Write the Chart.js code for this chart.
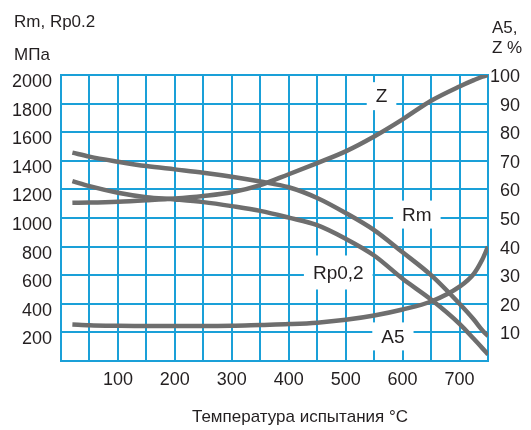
<!DOCTYPE html>
<html><head><meta charset="utf-8">
<script src="https://cdn.jsdelivr.net/npm/chart.js@4/dist/chart.umd.min.js"></script>
<style>html,body{margin:0;padding:0;background:#fff}#wrap{width:531px;height:430px}</style>
</head><body><div id="wrap"><canvas id="c" width="531" height="430"></canvas></div>
<script>
// Temperature (°C)
const temps = [20, 50, 100, 150, 200, 250, 300, 350, 400, 450, 500, 550, 600, 650, 700, 725, 740, 750];
// Rm, MPa (left axis)
const rm   = [1457, 1429, 1394, 1363, 1340, 1317, 1289, 1255, 1215, 1140, 1035, 915, 760, 600, 400, 290, 215, 174];
// Rp0,2, MPa (left axis)
const rp02 = [1258, 1223, 1177, 1146, 1130, 1111, 1083, 1050, 1003, 950, 855, 738, 575, 430, 260, 155, 90, 46];
// Z, % (right axis)
const zPct = [55.3, 55.4, 55.7, 56.2, 56.8, 57.7, 59.0, 61.5, 65.3, 69.2, 73.3, 78.5, 84.5, 91.0, 96.0, 98.2, 99.4, 100];
// A5, % (right axis)
const a5   = [12.8, 12.5, 12.3, 12.2, 12.2, 12.2, 12.3, 12.6, 12.9, 13.4, 14.4, 15.9, 18.0, 20.8, 26.0, 30.5, 35.5, 40];

const xTicksShown = [100, 200, 300, 400, 500, 600, 700];
const leftTicksShown = [200, 400, 600, 800, 1000, 1200, 1400, 1600, 1800, 2000];
const rightTicksShown = [10, 20, 30, 40, 50, 60, 70, 80, 90, 100];

const curveLabels = [
  {text: 'Z', t: 563, v: 1852},
  {text: 'Rm', t: 625, v: 1024},
  {text: 'Rp0,2', t: 487, v: 619},
  {text: 'A5', t: 583, v: 172}
];

const GRID = '#1aa0d8';
const LINE = '#6e6e6e';
const TXT = '#231f20';
const REG = '"Liberation Sans", Arial, sans-serif';

const pts = arr => arr.map((v, i) => ({x: temps[i], y: v}));

const textPlugin = {
  id: 'texts',
  beforeDatasetsDraw(chart) {
    const ctx = chart.ctx;
    const xs = chart.scales.x, ys = chart.scales.y;
    ctx.save();
    ctx.font = '19px ' + REG;
    ctx.textAlign = 'center';
    ctx.textBaseline = 'middle';
    curveLabels.forEach(l => {
      const px = xs.getPixelForValue(l.t), py = ys.getPixelForValue(l.v);
      const w = ctx.measureText(l.text).width + 18;
      const h = l.text.length > 3 ? 34 : 28;
      ctx.fillStyle = '#fff';
      ctx.fillRect(px - w / 2, py - h / 2, w, h);
      ctx.fillStyle = TXT;
      ctx.fillText(l.text, px, py + 1);
    });
    ctx.restore();
  },
  afterDraw(chart) {
    const ctx = chart.ctx;
    ctx.save();
    ctx.fillStyle = TXT;
    ctx.textBaseline = 'alphabetic';
    ctx.font = '17px ' + REG;
    ctx.textAlign = 'left';
    ctx.fillText('Rm, Rp0.2', 14, 27);
    ctx.fillText('МПа', 14, 60);
    ctx.fillText('A5,', 492, 33);
    ctx.fillText('Z %', 492, 53);
    ctx.textAlign = 'center';
    ctx.fillText('Температура испытания °C', 300, 422);
    ctx.restore();
  }
};

new Chart(document.getElementById('c'), {
  type: 'line',
  data: {
    datasets: [
      {label: 'Rm', data: pts(rm), yAxisID: 'y'},
      {label: 'Rp0,2', data: pts(rp02), yAxisID: 'y'},
      {label: 'Z', data: pts(zPct), yAxisID: 'y1'},
      {label: 'A5', data: pts(a5), yAxisID: 'y1'}
    ].map(d => Object.assign(d, {
      borderColor: LINE, borderWidth: 4.5, pointRadius: 0, fill: false,
      cubicInterpolationMode: 'monotone', borderCapStyle: 'butt'
    }))
  },
  options: {
    responsive: false,
    animation: false,
    events: [],
    layout: {padding: {top: 75, right: 11, left: 0, bottom: 0}},
    plugins: {legend: {display: false}, tooltip: {enabled: false}},
    scales: {
      x: {
        type: 'linear', min: 0, max: 750,
        grid: {color: GRID, lineWidth: 2, drawTicks: false},
        border: {color: GRID, width: 2},
        ticks: {
          stepSize: 50, padding: 8, color: TXT, font: {family: REG, size: 18},
          maxRotation: 0, autoSkip: false,
          callback: v => xTicksShown.includes(v) ? String(v) : ''
        },
        afterFit(s) { s.height = 69; }
      },
      y: {
        position: 'left', min: 0, max: 2000,
        grid: {color: GRID, lineWidth: 2, drawTicks: false},
        border: {color: GRID, width: 2},
        ticks: {
          stepSize: 200, padding: 9, labelOffset: 7, color: TXT,
          font: {family: REG, size: 18},
          callback: v => leftTicksShown.includes(v) ? String(v) : ''
        },
        afterFit(s) { s.width = 61; }
      },
      y1: {
        position: 'right', min: 0, max: 100,
        grid: {display: false, drawTicks: false},
        border: {color: GRID, width: 2},
        ticks: {
          stepSize: 10, padding: 5, labelOffset: 2, crossAlign: 'far', color: TXT,
          font: {family: REG, size: 18},
          callback: v => rightTicksShown.includes(v) ? String(v) : ''
        },
        afterFit(s) { s.width = 32; }
      }
    }
  },
  plugins: [textPlugin]
});
</script>
</body></html>
